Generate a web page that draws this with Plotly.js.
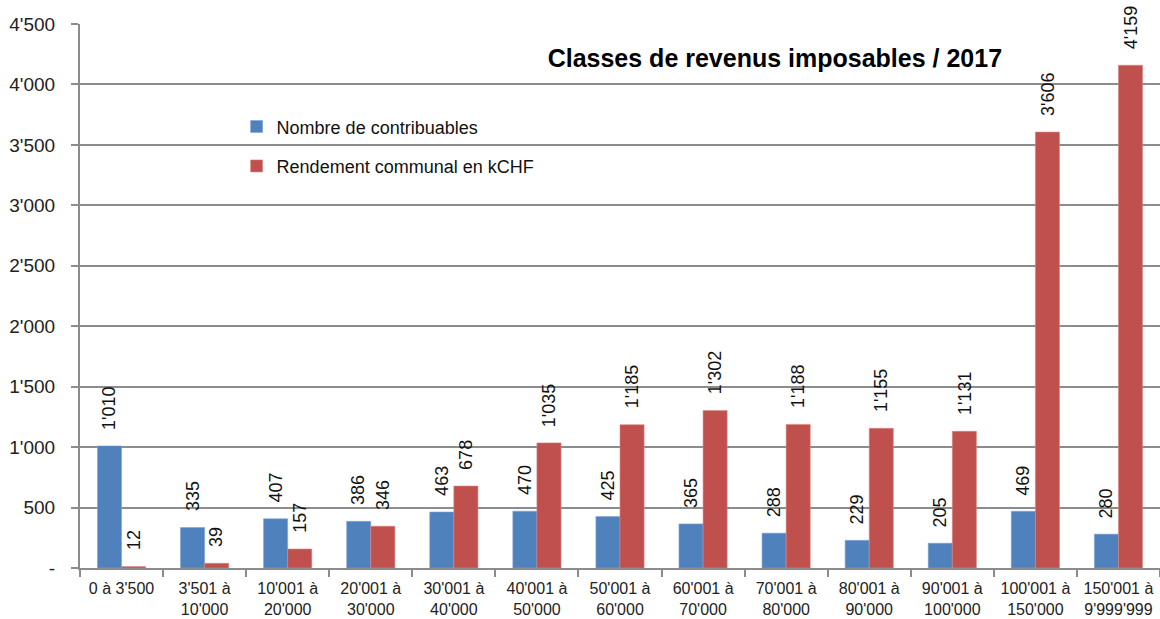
<!DOCTYPE html>
<html>
<head>
<meta charset="utf-8">
<script src="https://cdn.plot.ly/plotly-3.0.1.min.js"></script>
<style>html,body{margin:0;padding:0;background:#fff}#chart{width:1160px;height:619px}</style>
</head>
<body>
<div id="chart"></div>
<script>
const categories = ["0 à 3'500", "3'501 à<br>10'000", "10'001 à<br>20'000", "20'001 à<br>30'000", "30'001 à<br>40'000", "40'001 à<br>50'000", "50'001 à<br>60'000", "60'001 à<br>70'000", "70'001 à<br>80'000", "80'001 à<br>90'000", "90'001 à<br>100'000", "100'001 à<br>150'000", "150'001 à<br>9'999'999"];
const nombreContribuables = [1010, 335, 407, 386, 463, 470, 425, 365, 288, 229, 205, 469, 280];
const rendementCommunal = [12, 39, 157, 346, 678, 1035, 1185, 1302, 1188, 1155, 1131, 3606, 4159];
const yTickVals = [0, 500, 1000, 1500, 2000, 2500, 3000, 3500, 4000, 4500];
const yTickText = ["-", "500", "1'000", "1'500", "2'000", "2'500", "3'000", "3'500", "4'000", "4'500"];
const seriesNames = ["Nombre de contribuables", "Rendement communal en kCHF"];
const chartTitle = "Classes de revenus imposables / 2017";

const FONT = "'Liberation Sans Narrow', 'Arial Narrow', 'Liberation Sans', Arial, sans-serif";
const fmt = v => String(v).replace(/\B(?=(\d{3})+(?!\d))/g, "'");

const traces = [
  {type: 'bar', name: seriesNames[0], x: categories, y: nombreContribuables, marker: {color: '#4F81BD', line: {color: '#7fa3d1', width: 0.6}}, legendgroup: 'a'},
  {type: 'bar', name: seriesNames[1], x: categories, y: rendementCommunal, marker: {color: '#C0504D', line: {color: '#d88583', width: 0.6}}, legendgroup: 'b'}
];

const annotations = [];
categories.forEach((c, i) => {
  [[nombreContribuables, -12], [rendementCommunal, 12]].forEach(([arr, dx]) => {
    annotations.push({x: c, y: arr[i], xref: 'x', yref: 'y', text: fmt(arr[i]), showarrow: false, textangle: -90,
      xanchor: 'center', yanchor: 'bottom', xshift: dx, yshift: 14, font: {family: FONT, size: 18, color: '#111'}});
  });
});

const layout = {
  width: 1160, height: 619,
  margin: {l: 80, r: 0, t: 24, b: 51},
  paper_bgcolor: '#fff', plot_bgcolor: '#fff',
  barmode: 'group', bargap: 0.42, bargroupgap: 0,
  font: {family: FONT, size: 18, color: '#111'},
  title: {text: '<b>' + chartTitle + '</b>', x: 0.668, xanchor: 'center', y: 0.906, yanchor: 'middle', font: {family: FONT, size: 25, color: '#000'}},
  showlegend: true,
  legend: {x: 0.145, y: 0.845, xanchor: 'left', yanchor: 'top', bgcolor: 'rgba(0,0,0,0)', tracegroupgap: 13, font: {family: FONT, size: 18, color: '#111'}},
  xaxis: {type: 'category', tickangle: 0, automargin: false, showgrid: false, showline: true, linecolor: '#8c8c8c', linewidth: 2, ticks: 'outside', tickson: 'boundaries', ticklen: 7, tickcolor: '#8c8c8c', tickwidth: 2, ticklabelstandoff: 5, tickfont: {family: FONT, size: 16, color: '#222'}, fixedrange: true},
  yaxis: {range: [0, 4500], tickvals: yTickVals, ticktext: yTickText, showgrid: true, gridcolor: '#8c8c8c', gridwidth: 2, zeroline: false, showline: true, linecolor: '#8c8c8c', linewidth: 2, ticks: 'outside', ticklen: 7, tickcolor: '#8c8c8c', tickwidth: 2, ticklabelstandoff: 12, tickfont: {family: FONT, size: 19, color: '#222'}, fixedrange: true},
  annotations: annotations
};

Plotly.newPlot('chart', traces, layout, {displayModeBar: false, staticPlot: true});
</script>
</body>
</html>
